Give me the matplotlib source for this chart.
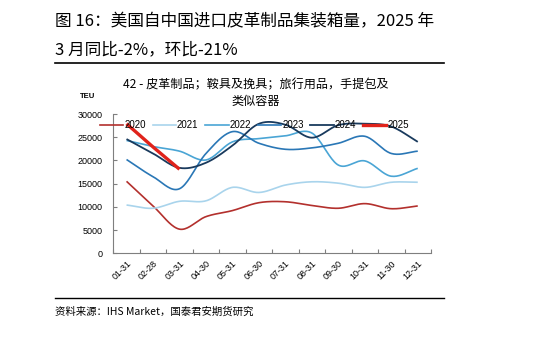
import numpy as np
import matplotlib
matplotlib.use("Agg")
import matplotlib.pyplot as plt
from matplotlib.lines import Line2D

plt.rcParams['font.family'] = ['Noto Sans CJK SC', 'DejaVu Sans']

categories = ['01-31', '02-28', '03-31', '04-30', '05-31', '06-30',
              '07-31', '08-31', '09-30', '10-31', '11-30', '12-31']

y2020 = [15500, 10200, 5200, 7900, 9200, 10900, 11100, 10300, 9700, 10700, 9600, 10200]
y2021 = [10400, 9700, 11200, 11300, 14200, 13100, 14700, 15400, 15100, 14200, 15300, 15300]
y2022 = [24300, 23000, 22000, 20100, 24000, 24700, 25300, 25900, 19000, 19900, 16600, 18300]
y2023 = [20200, 16500, 13900, 21500, 26200, 23700, 22400, 22700, 23700, 25200, 21500, 22000]
y2024 = [24600, 21500, 18400, 19500, 23200, 27900, 27700, 24900, 27600, 27900, 27300, 24000]
y2025 = [27900, 22900, 18100]

series_names = ['2020', '2021', '2022', '2023', '2024', '2025']
series_vals = [y2020, y2021, y2022, y2023, y2024, y2025]
colors = ['#B3302D', '#A9D4EC', '#4AA5D5', '#2A77B6', '#193A5D', '#E0231B']
widths = [1.2, 1.2, 1.2, 1.2, 1.3, 2.4]
smooth = [True, True, True, True, True, False]


def catmull(x, y, n=20):
    x = np.asarray(x, float)
    y = np.asarray(y, float)
    if len(x) < 3:
        return x, y
    px = np.concatenate([[2 * x[0] - x[1]], x, [2 * x[-1] - x[-2]]])
    py = np.concatenate([[2 * y[0] - y[1]], y, [2 * y[-1] - y[-2]]])
    xs, ys = [], []
    t = np.linspace(0, 1, n, endpoint=False)
    for i in range(1, len(px) - 2):
        p0, p1, p2, p3 = py[i - 1], py[i], py[i + 1], py[i + 2]
        q0, q1, q2, q3 = px[i - 1], px[i], px[i + 1], px[i + 2]
        f = lambda a0, a1, a2, a3: 0.5 * ((2 * a1) + (-a0 + a2) * t +
                                          (2 * a0 - 5 * a1 + 4 * a2 - a3) * t ** 2 +
                                          (-a0 + 3 * a1 - 3 * a2 + a3) * t ** 3)
        xs.append(f(q0, q1, q2, q3))
        ys.append(f(p0, p1, p2, p3))
    xs.append([x[-1]])
    ys.append([y[-1]])
    return np.concatenate(xs), np.concatenate(ys)


W, H = 539, 340
fig = plt.figure(figsize=(W / 100, H / 100), dpi=100)
ax = fig.add_axes([113.3 / W, 1 - 253.3 / H, (431 - 113.3) / W, (253.3 - 114) / H])

x = np.arange(len(categories))
handles = []
for name, vals, c, lw, sm in zip(series_names, series_vals, colors, widths, smooth):
    xi = x[:len(vals)]
    if sm:
        xx, yy = catmull(xi, vals)
    else:
        xx, yy = xi, np.asarray(vals)
    ax.plot(xx, yy, color=c, lw=lw, solid_capstyle='butt', zorder=3 if name != '2025' else 4)
    handles.append(Line2D([0], [0], color=c, lw=lw))

ax.set_xlim(-0.5, len(categories) - 0.5)
ax.set_ylim(0, 30000)
ax.set_yticks(np.arange(0, 30001, 5000))
ax.set_xticks(x)
ax.set_xticklabels(categories, rotation=45, ha='right', va='top', rotation_mode='anchor',
                   fontsize=6.5, family=['Liberation Sans', 'DejaVu Sans'])
ax.set_xticks(np.arange(-0.5, len(categories)), minor=True)
ax.tick_params(axis='x', which='major', length=0, pad=4)
ax.tick_params(axis='x', which='minor', length=3, direction='in', color='#7f7f7f', width=0.8)
ax.tick_params(axis='y', length=3, direction='in', color='#7f7f7f', width=0.8, pad=8)
for lab in ax.get_yticklabels():
    lab.set_fontsize(6.5)
    lab.set_family(['Liberation Sans', 'DejaVu Sans'])

for s in ['top', 'right']:
    ax.spines[s].set_visible(False)
for s in ['left', 'bottom']:
    ax.spines[s].set_color('#7f7f7f')
    ax.spines[s].set_linewidth(0.8)
ax.patch.set_alpha(0)

leg = fig.legend(handles, series_names, loc='center left',
                 bbox_to_anchor=(100 / W, 1 - 125 / H), ncol=6, frameon=False,
                 handlelength=2.4, handletextpad=0.1, columnspacing=0.7,
                 borderpad=0, borderaxespad=0,
                 prop={'family': ['Liberation Sans', 'DejaVu Sans'], 'size': 7})

fig.text(88 / W, 1 - 97 / H, 'TEU', fontsize=5.5, ha='center', va='center',
         family=['Liberation Sans', 'DejaVu Sans'], weight='bold')

fig.text(256 / W, 1 - 85 / H, '42 - 皮革制品；鞍具及挽具；旅行用品，手提包及',
         fontsize=8.7, ha='center', va='center')
fig.text(256 / W, 1 - 101.5 / H, '类似容器', fontsize=8.7, ha='center', va='center')

fig.text(55 / W, 1 - 22 / H, '图 16：美国自中国进口皮革制品集装箱量，2025 年',
         fontsize=12, ha='left', va='center')
fig.text(55 / W, 1 - 50 / H, '3 月同比-2%，环比-21%',
         fontsize=12, ha='left', va='center')
fig.add_artist(Line2D([55 / W, 444 / W], [1 - 62.5 / H, 1 - 62.5 / H], color='black', lw=1.2))

fig.add_artist(Line2D([55 / W, 444 / W], [1 - 298 / H, 1 - 298 / H], color='black', lw=1.0))
fig.text(55 / W, 1 - 312 / H, '资料来源：IHS Market，国泰君安期货研究',
         fontsize=7.5, ha='left', va='center')

fig.savefig('out.png', dpi=100)
